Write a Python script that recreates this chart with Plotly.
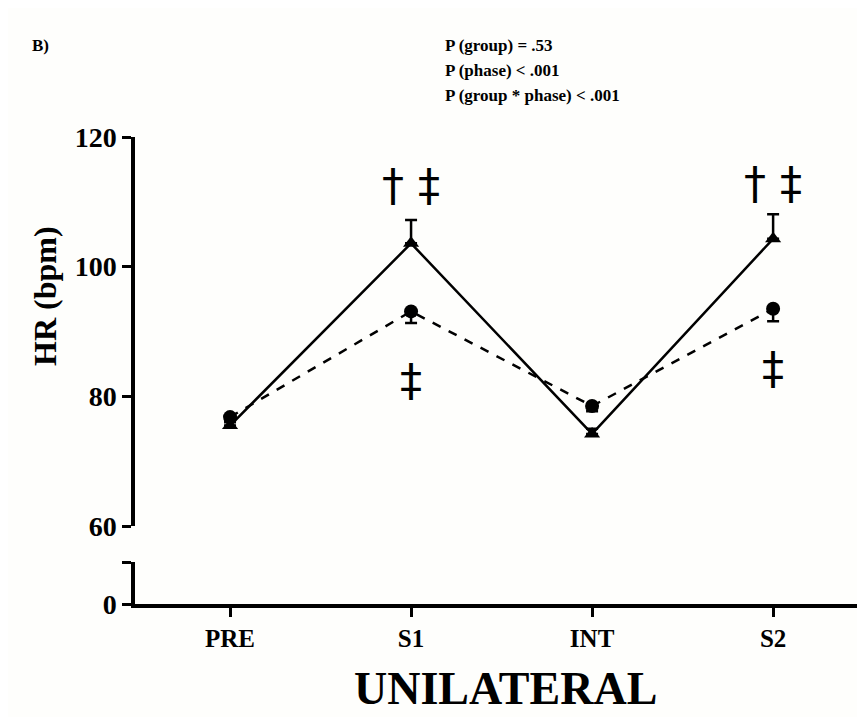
import plotly.graph_objects as go

phases = ["PRE", "S1", "INT", "S2"]
hr_solid = [75.5, 103.6, 74.2, 104.3]
hr_solid_err = [0.8, 3.6, 0.8, 3.8]
hr_dashed = [76.8, 93.1, 78.5, 93.5]
hr_dashed_err = [0.8, 1.8, 0.8, 1.9]
ytick_vals = [60, 80, 100, 120]
marks_top = ["\u2020 \u2021", "\u2020 \u2021"]
marks_top_pos = [("S1", 112.5), ("S2", 112.9)]
marks_low = ["\u2021", "\u2021"]
marks_low_pos = [("S1", 82.4), ("S2", 84.3)]
p_lines = ["P (group) = .53", "P (phase) < .001", "P (group * phase) < .001"]

FONT = "Liberation Serif"
SYMFONT = "DejaVu Sans"
OFF = 8  # page body margin
FW, FH = 865 - OFF, 717 - OFF
T, B = 137 - OFF, 604 - OFF
H = B - T
L, R = 135 - OFF, 860 - OFF
W = R - L


def py(pix):
    return (B - (pix - OFF)) / H


def px(pix):
    return ((pix - OFF) - L) / W


fig = go.Figure()

fig.add_trace(go.Scatter(
    x=phases, y=hr_dashed, mode="lines+markers",
    line=dict(color="black", width=2.5, dash="dash"),
    marker=dict(symbol="circle", size=14, color="black"),
    error_y=dict(type="data", symmetric=False, array=[0]*4, arrayminus=hr_dashed_err,
                 color="black", thickness=2.5, width=6),
    xaxis="x", yaxis="y", showlegend=False))

fig.add_trace(go.Scatter(
    x=phases, y=hr_solid, mode="lines+markers",
    line=dict(color="black", width=2.5),
    marker=dict(symbol="triangle-up", size=14, color="black"),
    error_y=dict(type="data", symmetric=False, array=hr_solid_err, arrayminus=[0]*4,
                 color="black", thickness=2.5, width=6),
    xaxis="x", yaxis="y", showlegend=False))

# empty trace so the lower (broken) axis segment is drawn
fig.add_trace(go.Scatter(x=phases, y=[None]*len(phases), mode="markers",
                         xaxis="x", yaxis="y2", showlegend=False, hoverinfo="skip"))

anns = []
for txt, (cx, cy) in zip(marks_top, marks_top_pos):
    anns.append(dict(x=cx, y=cy, xref="x", yref="y", text=txt, showarrow=False,
                     font=dict(family=SYMFONT, size=44, color="black")))
for txt, (cx, cy) in zip(marks_low, marks_low_pos):
    anns.append(dict(x=cx, y=cy, xref="x", yref="y", text=txt, showarrow=False,
                     font=dict(family=SYMFONT, size=44, color="black")))
anns.append(dict(xref="paper", yref="paper", x=px(30), y=py(45),
                 xanchor="left", yanchor="middle", text="B)", showarrow=False,
                 font=dict(family=FONT, size=17, color="black", weight="bold")))
for i, t in enumerate(p_lines):
    anns.append(dict(xref="paper", yref="paper", x=px(443), y=py(45 + 25 * i),
                     xanchor="left", yanchor="middle", text=t, showarrow=False,
                     font=dict(family=FONT, size=17, color="black", weight="bold")))
anns.append(dict(xref="paper", yref="paper", x=px(45), y=py(296),
                 text="HR (bpm)", textangle=-90, showarrow=False, xanchor="center", yanchor="middle",
                 font=dict(family=FONT, size=32, color="black", weight="bold")))
anns.append(dict(xref="paper", yref="paper", x=px(505), y=py(688),
                 text="UNILATERAL", showarrow=False, xanchor="center", yanchor="middle",
                 font=dict(family=FONT, size=46, color="black", weight="bold")))

axis_common = dict(showline=True, linecolor="black", linewidth=3.5,
                   ticks="outside", ticklen=9, tickwidth=3, tickcolor="black",
                   showgrid=False, zeroline=False, automargin=False)
xfont = dict(family=FONT, size=25, color="black", weight="bold")
yfont = dict(family=FONT, size=28, color="black", weight="bold")

fig.update_layout(
    width=FW, height=FH,
    margin=dict(l=L, r=FW - R, t=T, b=FH - B, autoexpand=False),
    paper_bgcolor="#fefefc", plot_bgcolor="#fefefc",
    annotations=anns,
    xaxis=dict(type="category", range=[-0.525, 3.48], anchor="y2", tickfont=xfont, **axis_common),
    yaxis=dict(domain=[py(526), 1], range=[60, 120], anchor="x",
               tickvals=ytick_vals, tickfont=yfont, **axis_common),
    yaxis2=dict(domain=[0, py(562)], range=[0, 10], anchor="x",
                tickvals=[0, 10], ticktext=["0", ""], tickfont=yfont, **axis_common),
)

fig.write_html("out.html")
